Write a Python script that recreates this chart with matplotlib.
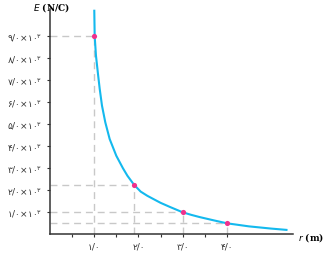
import matplotlib
matplotlib.use("Agg")
import matplotlib.pyplot as plt

# curve (r in m, E in 10^3 N/C)
curve_r = [1.000, 1.009, 1.038, 1.084, 1.122, 1.174, 1.249, 1.348, 1.498, 1.649,
           1.750, 1.900, 2.050, 2.200, 2.340, 2.500, 2.715, 3.000, 3.200, 3.390,
           3.700, 4.000, 4.500, 5.000, 5.350]
curve_E = [10.16, 9.00, 8.12, 7.28, 6.62, 5.85, 5.09, 4.33, 3.57, 3.00,
           2.66, 2.25, 1.94, 1.75, 1.60, 1.43, 1.24, 1.00, 0.88, 0.78,
           0.635, 0.50, 0.36, 0.26, 0.20]

# marked points
pts_r = [1.0, 1.9, 3.0, 4.0]
pts_E = [9.0, 2.25, 1.0, 0.5]

xticks = [1, 2, 3, 4]
xlabels = ["۱/۰", "۲/۰", "۳/۰", "۴/۰"]
yticks = [1, 2, 3, 4, 5, 6, 7, 8, 9]
ydigits = ["۱", "۲", "۳", "۴", "۵", "۶", "۷", "۸", "۹"]
ylabels = ["%s/۰×۱۰$^{۳}$" % d for d in ydigits]

plt.rcParams["mathtext.fontset"] = "dejavusans"
fig = plt.figure(figsize=(3.29, 2.55), dpi=100)
ax = fig.add_axes([0.1523, 0.0773, 0.7386, 0.8835])

# dashed guides
for r, e in zip(pts_r, pts_E):
    ax.plot([0, r], [e, e], ls=(0, (5, 3.5)), color="#c8c8c8", lw=1.0, zorder=1)
    ax.plot([r, r], [0, e], ls=(0, (5, 3.5)), color="#c8c8c8", lw=1.0, zorder=1)

ax.plot(curve_r, curve_E, color="#14b9ee", lw=1.5, zorder=2,
        solid_joinstyle="round")
ax.scatter(pts_r, pts_E, s=14, color="#f0318c", zorder=3, linewidths=0)

ax.set_xlim(0, 5.5)
ax.set_ylim(0, 10.24)
for s in ["top", "right"]:
    ax.spines[s].set_visible(False)
for s in ["left", "bottom"]:
    ax.spines[s].set_color("#333333")
    ax.spines[s].set_linewidth(1.1)

ax.set_xticks(xticks)
ax.set_xticklabels(xlabels, fontsize=6.5, color="#333333")
ax.set_xticks([0.5, 1.5, 2.5, 3.5], minor=True)
ax.set_yticks(yticks)
ax.set_yticklabels(ylabels, fontsize=6.5, color="#333333")
ax.tick_params(axis="both", which="both", direction="out", length=2.5, width=0.8,
               color="#333333", pad=3)

fig.text(0.158, 0.972, r"$\mathit{E}$ (N/C)", ha="center", va="center",
         fontsize=6.5, family="DejaVu Serif", fontweight="bold")
fig.text(0.905, 0.07, r"$\mathit{r}$ (m)", ha="left", va="center",
         fontsize=6.5, family="DejaVu Serif", fontweight="bold")

fig.savefig("out.png", dpi=100)
